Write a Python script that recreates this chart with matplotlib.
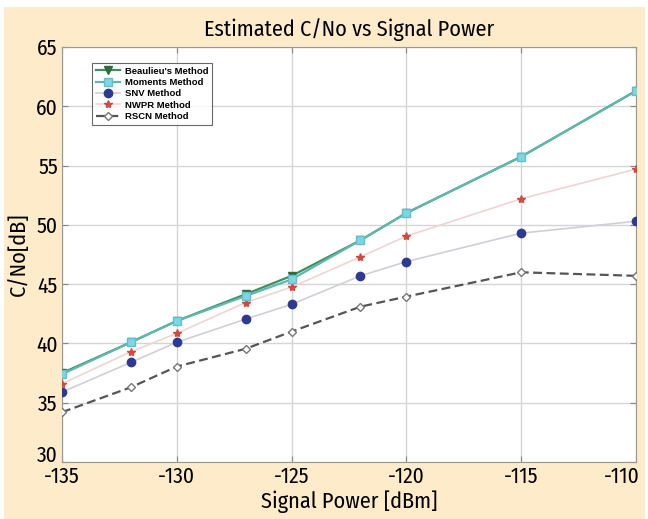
import matplotlib
matplotlib.use("Agg")
import matplotlib.pyplot as plt
from matplotlib.patches import Rectangle
from matplotlib.transforms import ScaledTranslation

power = [-135, -132, -130, -127, -125, -122, -120, -115, -110]
beaulieu = [37.5, 40.1, 41.9, 44.15, 45.7, 48.7, 51.0, 55.75, 61.3]
moments = [37.4, 40.1, 41.9, 44.0, 45.4, 48.7, 51.0, 55.75, 61.3]
snv = [35.9, 38.4, 40.1, 42.05, 43.3, 45.7, 46.9, 49.3, 50.3]
nwpr = [36.6, 39.3, 40.85, 43.45, 44.75, 47.3, 49.05, 52.2, 54.7]
rscn = [34.2, 36.3, 38.05, 39.55, 41.0, 43.1, 43.95, 46.0, 45.7]

xticks = [-135, -130, -125, -120, -115, -110]
yticks = [30, 35, 40, 45, 50, 55, 60, 65]

font = ['Fira Sans Condensed', 'Roboto Condensed', 'IBM Plex Sans Condensed',
        'Archivo Narrow', 'DejaVu Sans']
plt.rcParams['font.family'] = font

fig = plt.figure(figsize=(6.48, 5.19), dpi=100)
fig.patch.set_facecolor('white')
fig.patches.append(Rectangle((4/648, 0), 641/648, 512/519, transform=fig.transFigure,
                             facecolor='#fdebc9', edgecolor='none', zorder=-10))

ax = fig.add_axes([62/648, 1 - 462/519, 574/648, 415/519])
ax.set_facecolor('white')

ax.plot(power, beaulieu, color='#3f8f5e', lw=1.6, marker='v', ms=6,
        markerfacecolor='#2f6b3f', markeredgecolor='#2f6b3f', label="Beaulieu's Method", zorder=4)
ax.plot(power, moments, color='#5fb8ae', lw=1.6, marker='s', ms=6,
        markerfacecolor='#7fd6e2', markeredgecolor='#5fc0cc', label='Moments Method', zorder=5)
ax.plot(power, snv, color='#cfcfd8', lw=1.2, marker='o', ms=6,
        markerfacecolor='#2d3a94', markeredgecolor='#2d3a94', label='SNV Method', zorder=3)
ax.plot(power, nwpr, color='#f0d4d4', lw=1.2, marker='*', ms=6,
        markerfacecolor='#d04a3e', markeredgecolor='#d04a3e', label='NWPR Method', zorder=3)
ax.plot(power, rscn, color='#555555', lw=1.6, ls=(0, (4, 2)), marker='D', ms=4,
        markerfacecolor='white', markeredgecolor='#777777', label='RSCN Method', zorder=3)

ax.set_xlim(-135, -110)
ax.set_ylim(30, 65)
ax.set_xticks(xticks)
ax.set_yticks(yticks)
ax.set_xticklabels([str(t) for t in xticks])
ax.set_yticklabels([str(t) for t in yticks])
ax.grid(True, color='#d5d5d5', lw=1.0)
ax.set_axisbelow(True)
ax.tick_params(direction='in', top=True, right=True, labelsize=15.5, color='#888888', length=4)
ax.tick_params(axis='x', pad=3)
ax.tick_params(axis='y', pad=3)
for s in ax.spines.values():
    s.set_color('#999999')

last = ax.get_xticklabels()[-1]
last.set_horizontalalignment('right')
last.set_transform(last.get_transform() + ScaledTranslation(4/100, 0, fig.dpi_scale_trans))

first_y = ax.get_yticklabels()[0]
first_y.set_transform(first_y.get_transform() + ScaledTranslation(0, 8/100, fig.dpi_scale_trans))

ax.set_title('Estimated C/No vs Signal Power', fontsize=16, pad=8)
ax.set_xlabel('Signal Power [dBm]', fontsize=16, labelpad=2)
ax.set_ylabel('C/No[dB]', fontsize=16, labelpad=5)

leg = ax.legend(loc='upper left', bbox_to_anchor=(0.052, 0.962), borderaxespad=0, frameon=True,
                fancybox=False, edgecolor='#444444', handlelength=2.6, borderpad=0.4,
                labelspacing=0.25, handletextpad=0.5,
                prop={'weight': 'bold', 'size': 6.8, 'family': ['Liberation Sans', 'DejaVu Sans']})
leg.get_frame().set_linewidth(0.8)

fig.savefig('out.png', dpi=100, facecolor=fig.get_facecolor())
